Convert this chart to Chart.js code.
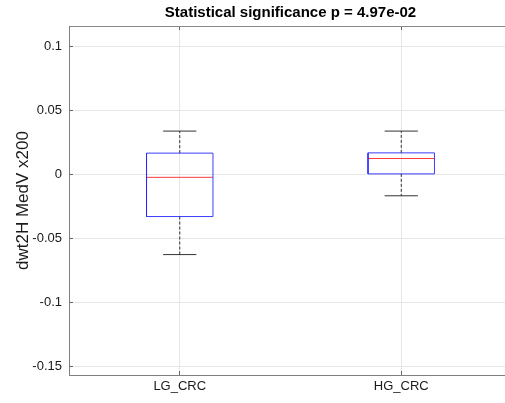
<!DOCTYPE html>
<html>
<head>
<meta charset="utf-8">
<script src="https://cdn.jsdelivr.net/npm/chart.js@4"></script>
<style>
html,body{margin:0;padding:0;background:#fff;overflow:hidden;}
#wrap{width:505px;height:403px;position:relative;overflow:hidden;}
canvas{display:block;}
</style>
</head>
<body>
<div id="wrap"><canvas id="c" width="512" height="403"></canvas></div>
<script>
const categories = ['LG_CRC', 'HG_CRC'];
const upperWhisker = [0.0337, 0.0337];
const q3 = [0.0165, 0.0167];
const median = [-0.0024, 0.0123];
const q1 = [-0.0330, 0.0003];
const lowerWhisker = [-0.0627, -0.0168];
const yTicks = [-0.15, -0.1, -0.05, 0, 0.05, 0.1];
const yTickLabels = ['-0.15', '-0.1', '-0.05', '0', '0.05', '0.1'];
const titleText = 'Statistical significance p = 4.97e-02';
const yTitle = 'dwt2H MedV x200';

const boxHalf = 0.15, capHalf = 0.075;
const FONT = "'Liberation Sans', Arial, Helvetica, sans-serif";

const datasets = [];
function line(points, color, dash, width) {
  datasets.push({
    type: 'line', data: points, borderColor: color, borderWidth: width || 1,
    borderDash: dash || [], pointRadius: 0, pointHoverRadius: 0, fill: false,
    tension: 0, showLine: true
  });
}
categories.forEach((c, i) => {
  const p = i + 1;
  line([{x: p, y: q3[i]}, {x: p, y: upperWhisker[i]}], '#333333', [3, 2]);
  line([{x: p, y: q1[i]}, {x: p, y: lowerWhisker[i]}], '#333333', [3, 2]);
  line([{x: p - capHalf, y: upperWhisker[i]}, {x: p + capHalf, y: upperWhisker[i]}], '#333333');
  line([{x: p - capHalf, y: lowerWhisker[i]}, {x: p + capHalf, y: lowerWhisker[i]}], '#333333');
  line([{x: p - boxHalf, y: q1[i]}, {x: p + boxHalf, y: q1[i]}, {x: p + boxHalf, y: q3[i]},
        {x: p - boxHalf, y: q3[i]}, {x: p - boxHalf, y: q1[i]}], 'rgba(40,40,255,0.9)');
  line([{x: p - boxHalf, y: median[i]}, {x: p + boxHalf, y: median[i]}], 'rgba(255,40,40,0.9)');
});

new Chart(document.getElementById('c'), {
  type: 'scatter',
  data: { datasets },
  options: {
    responsive: false,
    animation: false,
    events: [],
    layout: { padding: 0 },
    plugins: {
      legend: { display: false },
      tooltip: { enabled: false },
      title: {
        display: true, text: titleText, fullSize: false, color: '#000',
        font: { family: FONT, size: 15, weight: 'bold', lineHeight: 1.15 },
        padding: { top: 4, bottom: 4.8 }
      }
    },
    scales: {
      x: {
        type: 'linear', min: 0.5, max: 2.5,
        afterBuildTicks: s => { s.ticks = categories.map((c, i) => ({ value: i + 1 })); },
        afterFit: s => { s.height = 28; },
        ticks: {
          callback: (v) => categories[Math.round(v) - 1] || '',
          color: '#1a1a1a', font: { family: FONT, size: 13 }, padding: 8,
          maxRotation: 0, autoSkip: false
        },
        grid: { color: '#e6e6e6', drawTicks: true, tickLength: -4, tickColor: '#666666' },
        border: { color: '#7f7f7f', width: 1 }
      },
      xTop: {
        type: 'linear', position: 'top', min: 0.5, max: 2.5,
        afterBuildTicks: s => { s.ticks = categories.map((c, i) => ({ value: i + 1 })); },
        afterFit: s => { s.height = 0; },
        ticks: { display: false },
        grid: { drawOnChartArea: false, drawTicks: true, tickLength: -4, color: '#666666' },
        border: { color: '#8a8a8a', width: 1 }
      },
      y: {
        min: -0.1567, max: 0.1157,
        afterBuildTicks: s => { s.ticks = yTicks.map(v => ({ value: v })); },
        afterFit: s => { s.width = 69; },
        ticks: {
          callback: (v) => { const k = yTicks.findIndex(t => Math.abs(t - v) < 1e-9); return k >= 0 ? yTickLabels[k] : ''; },
          color: '#1a1a1a', font: { family: FONT, size: 13 }, padding: 11
        },
        grid: { color: '#e6e6e6', drawTicks: true, tickLength: -4, tickColor: '#666666' },
        border: { color: '#7f7f7f', width: 1 },
        title: {
          display: true, text: yTitle, color: '#1a1a1a',
          font: { family: FONT, size: 17 }, padding: { top: 13, bottom: 0 }
        }
      }
    }
  }
});
</script>
</body>
</html>
